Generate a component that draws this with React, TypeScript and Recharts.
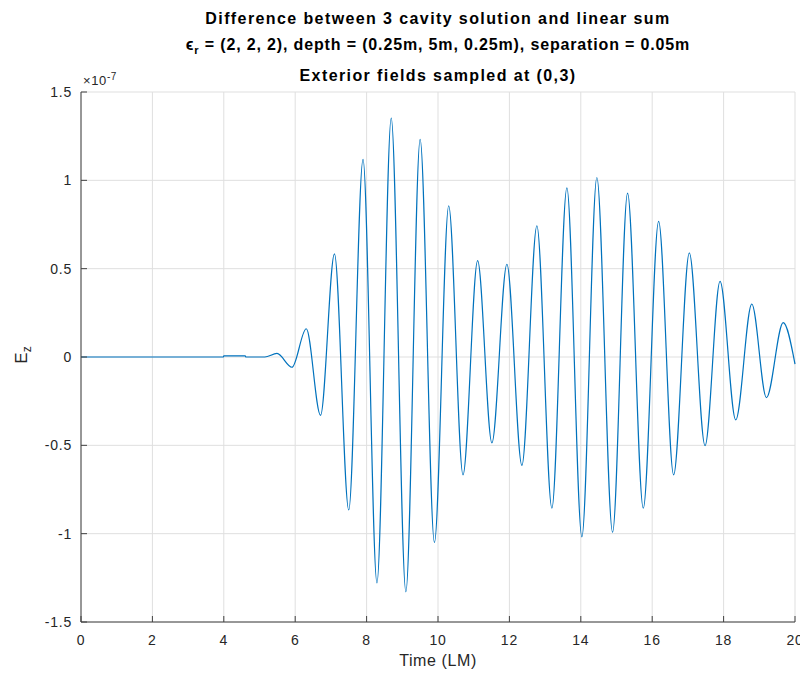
import React from 'react';
import { LineChart, Line, XAxis, YAxis, CartesianGrid } from 'recharts';

// time in light-metres, Ez in units of 1e-7
const timeLM = [
  0, 3.99, 4.0, 4.6, 4.62, 5.15, 5.49, 5.91, 6.31, 6.71, 7.1, 7.5, 7.9, 8.29, 8.69, 9.1, 9.5, 9.9,
  10.3, 10.7, 11.11, 11.51, 11.93, 12.35, 12.77, 13.19, 13.61, 14.03, 14.45, 14.89, 15.31, 15.75,
  16.18, 16.6, 17.04, 17.48, 17.9, 18.34, 18.79, 19.2, 19.67, 20,
];
const ezValues = [
  0, 0, 0.006, 0.006, 0, 0, 0.02, -0.058, 0.16, -0.33, 0.584, -0.866, 1.119, -1.278, 1.352, -1.329,
  1.232, -1.05, 0.856, -0.667, 0.545, -0.486, 0.525, -0.613, 0.743, -0.856, 0.957, -1.018, 1.016,
  -0.992, 0.928, -0.856, 0.768, -0.667, 0.589, -0.502, 0.428, -0.356, 0.3, -0.23, 0.195, -0.04,
];
const xTicks = [0, 2, 4, 6, 8, 10, 12, 14, 16, 18, 20];
const yTicks = [-1.5, -1, -0.5, 0, 0.5, 1, 1.5];

const chartData = timeLM.map((t, i) => ({ t, ez: ezValues[i] }));

const FONT = '"Liberation Sans", Arial, Helvetica, sans-serif';
const AXIS = '#404040';
const tickStyle = { fontSize: 14, fill: '#262626', fontFamily: FONT, letterSpacing: 0.8 };

export default function App() {
  return (
    <div style={{ position: 'relative', width: 800, height: 664, fontFamily: FONT, color: '#000' }}>
      <style>{'.recharts-surface { overflow: visible; }'}</style>
      <div
        style={{
          position: 'absolute',
          left: 80,
          width: 700,
          top: 0,
          textAlign: 'center',
          fontWeight: 'bold',
          fontSize: 16,
          lineHeight: '20px',
          letterSpacing: 1.4,
          whiteSpace: 'nowrap',
        }}
      >
        <div style={{ position: 'absolute', top: 1, width: '100%' }}>
          Difference between 3 cavity solution and linear sum
        </div>
        <div style={{ position: 'absolute', top: 27, width: '100%', letterSpacing: 0.85 }}>
          {'\u03F5'}
          <sub style={{ fontSize: 11 }}>r</sub> = (2, 2, 2), depth = (0.25m, 5m, 0.25m), separation = 0.05m
        </div>
        <div style={{ position: 'absolute', top: 58, width: '100%' }}>Exterior fields sampled at (0,3)</div>
      </div>
      <div style={{ position: 'absolute', left: 75, top: 63, fontSize: 13, color: '#262626', letterSpacing: 0.6 }}>
        {'\u00D7'}10<sup style={{ fontSize: 10 }}>-7</sup>
      </div>
      <div
        style={{
          position: 'absolute',
          left: 15,
          top: 347,
          fontSize: 17,
          color: '#262626',
          transform: 'translate(-50%, -50%) rotate(-90deg)',
          whiteSpace: 'nowrap',
        }}
      >
        E<sub style={{ fontSize: 12 }}>z</sub>
      </div>
      <div
        style={{
          position: 'absolute',
          left: 330,
          width: 200,
          top: 644,
          textAlign: 'center',
          fontSize: 16,
          letterSpacing: 0.6,
          color: '#262626',
          lineHeight: '18px',
        }}
      >
        Time (LM)
      </div>
      <LineChart width={800} height={664} data={chartData} margin={{ top: 84, right: 13, bottom: 10, left: 13 }}>
        <CartesianGrid stroke="#dfdfdf" strokeWidth={1} />
        <XAxis
          dataKey="t"
          type="number"
          domain={[0, 20]}
          ticks={xTicks}
          height={40}
          stroke={AXIS}
          tick={tickStyle}
          tickSize={-6}
          tickMargin={19}
          interval={0}
        />
        <XAxis
          xAxisId="top"
          orientation="top"
          dataKey="t"
          type="number"
          domain={[0, 20]}
          ticks={xTicks}
          height={0}
          stroke={AXIS}
          tickSize={-6}
          tickFormatter={() => ''}
          interval={0}
        />
        <YAxis
          type="number"
          domain={[-1.5, 1.5]}
          ticks={yTicks}
          width={60}
          stroke={AXIS}
          tick={tickStyle}
          tickSize={-6}
          tickMargin={15}
          interval={0}
        />
        <YAxis
          yAxisId="right"
          orientation="right"
          type="number"
          domain={[-1.5, 1.5]}
          ticks={yTicks}
          width={0}
          stroke={AXIS}
          tickSize={-6}
          tickFormatter={() => ''}
          interval={0}
        />
        <Line
          type="monotone"
          dataKey="ez"
          stroke="#0072bd"
          strokeWidth={1.2}
          dot={false}
          isAnimationActive={false}
        />
      </LineChart>
    </div>
  );
}
